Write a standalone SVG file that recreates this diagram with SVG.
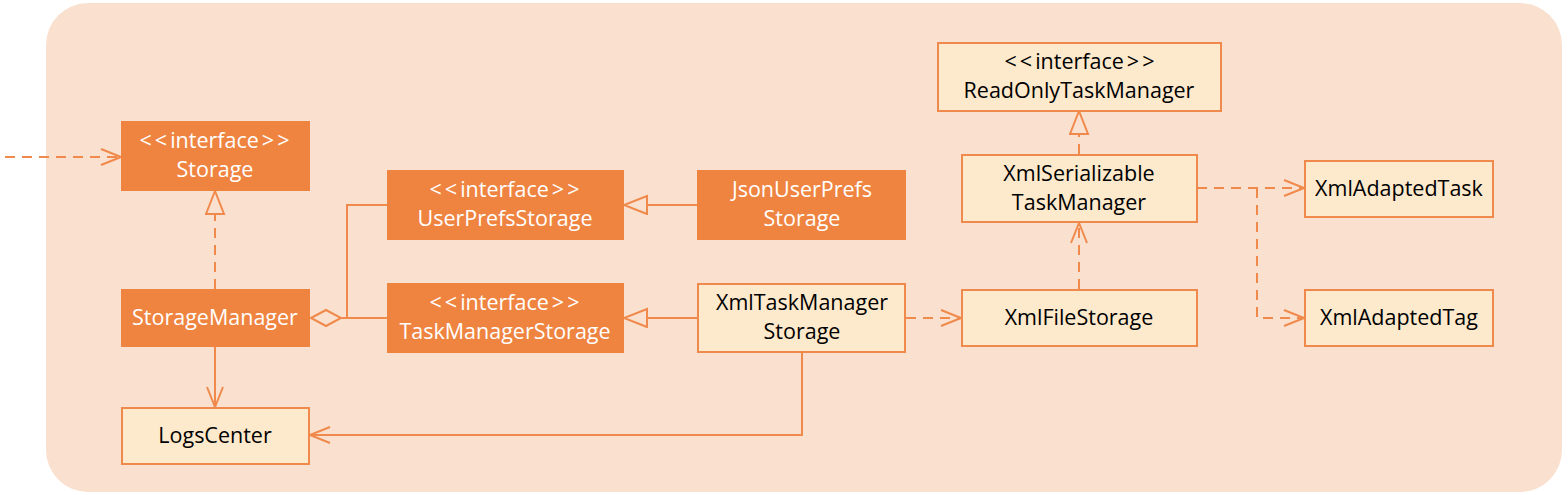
<svg xmlns="http://www.w3.org/2000/svg" width="1568" height="495" viewBox="0 0 1568 495">
<style>
.bg{fill:#FAE0CE;stroke:none}
.dark rect{fill:#EF8441;stroke:#EF8441;stroke-width:2}
.light rect{fill:#FDE9CC;stroke:#F08A4C;stroke-width:2}
text{font-family:"Open Sans","Noto Sans",sans-serif;font-size:21.5px;text-anchor:middle}
.dark text{fill:#FFFFFF}
.light text{fill:#000000}
.ab{letter-spacing:3px}
.c{fill:none;stroke:#F08A4C;stroke-width:2}
.d{stroke-dasharray:10,7}
</style>
<defs>
<marker id="open" markerUnits="userSpaceOnUse" markerWidth="22" markerHeight="18" viewBox="-1 -1 22 18" refX="20" refY="8" orient="auto">
<path d="M0,0 L20,8 L0,16" fill="none" stroke="#F08A4C" stroke-width="2"/>
</marker>
<marker id="tri" markerUnits="userSpaceOnUse" markerWidth="26" markerHeight="22" viewBox="-1 -1 26 22" refX="23" refY="9" orient="auto">
<path d="M0,0 L23,9 L0,18 Z" fill="#FAE0CE" stroke="#F08A4C" stroke-width="2"/>
</marker>
</defs>
<rect class="bg" x="46" y="3" width="1516" height="489" rx="42" ry="42"/>

<g id="connectors">
<path class="c d" d="M5,157 L121,157" marker-end="url(#open)"/>
<path class="c d" d="M215,289 L215,191" marker-end="url(#tri)"/>
<path class="c" d="M215,347 L215,407" marker-end="url(#open)"/>
<path class="c" d="M311,318 L326,310 L341,318 L326,326 Z" style="fill:#FAE0CE"/>
<path class="c" d="M341,318 L387,318 M347,318 L347,205 L387,205"/>
<path class="c" d="M697,205 L624,205" marker-end="url(#tri)"/>
<path class="c" d="M697,318 L624,318" marker-end="url(#tri)"/>
<path class="c d" d="M906,318 L961,318" marker-end="url(#open)"/>
<path class="c" d="M802,353 L802,435 L310,435" marker-end="url(#open)"/>
<path class="c d" d="M1079,289 L1079,223" marker-end="url(#open)"/>
<path class="c d" d="M1079,154 L1079,111" marker-end="url(#tri)"/>
<path class="c d" d="M1197,188 L1304,188" marker-end="url(#open)"/>
<path class="c d" d="M1257,188 L1257,318 L1304,318" marker-end="url(#open)"/>
</g>

<g id="Storage" class="dark"><rect x="122" y="122" width="187" height="68"/><text x="216" y="148"><tspan class="ab">&lt;&lt;</tspan>interface<tspan class="ab" dx="3">&gt;&gt;</tspan></text><text x="215" y="177">Storage</text></g>
<g id="StorageManager" class="dark"><rect x="122" y="290" width="187" height="56"/><text x="215" y="325">StorageManager</text></g>
<g id="LogsCenter" class="light"><rect x="122" y="408" width="187" height="56"/><text x="215" y="443">LogsCenter</text></g>
<g id="UserPrefsStorage" class="dark"><rect x="388" y="171" width="235" height="68"/><text x="506" y="197"><tspan class="ab">&lt;&lt;</tspan>interface<tspan class="ab" dx="3">&gt;&gt;</tspan></text><text x="505" y="226">UserPrefsStorage</text></g>
<g id="TaskManagerStorage" class="dark"><rect x="388" y="284" width="235" height="68"/><text x="506" y="310"><tspan class="ab">&lt;&lt;</tspan>interface<tspan class="ab" dx="3">&gt;&gt;</tspan></text><text x="505" y="339">TaskManagerStorage</text></g>
<g id="JsonUserPrefsStorage" class="dark"><rect x="698" y="171" width="207" height="68"/><text x="802" y="197">JsonUserPrefs</text><text x="802" y="226">Storage</text></g>
<g id="XmlTaskManagerStorage" class="light"><rect x="698" y="284" width="207" height="68"/><text x="802" y="310">XmlTaskManager</text><text x="802" y="339">Storage</text></g>
<g id="ReadOnlyTaskManager" class="light"><rect x="938" y="43" width="283" height="68"/><text x="1081" y="69"><tspan class="ab">&lt;&lt;</tspan>interface<tspan class="ab" dx="3">&gt;&gt;</tspan></text><text x="1079" y="98">ReadOnlyTaskManager</text></g>
<g id="XmlSerializableTaskManager" class="light"><rect x="962" y="155" width="235" height="67"/><text x="1079" y="181">XmlSerializable</text><text x="1079" y="210">TaskManager</text></g>
<g id="XmlFileStorage" class="light"><rect x="962" y="290" width="235" height="56"/><text x="1079" y="325">XmlFileStorage</text></g>
<g id="XmlAdaptedTask" class="light"><rect x="1305" y="161" width="188" height="56"/><text x="1399" y="196">XmlAdaptedTask</text></g>
<g id="XmlAdaptedTag" class="light"><rect x="1305" y="290" width="188" height="56"/><text x="1399" y="325">XmlAdaptedTag</text></g>
</svg>
